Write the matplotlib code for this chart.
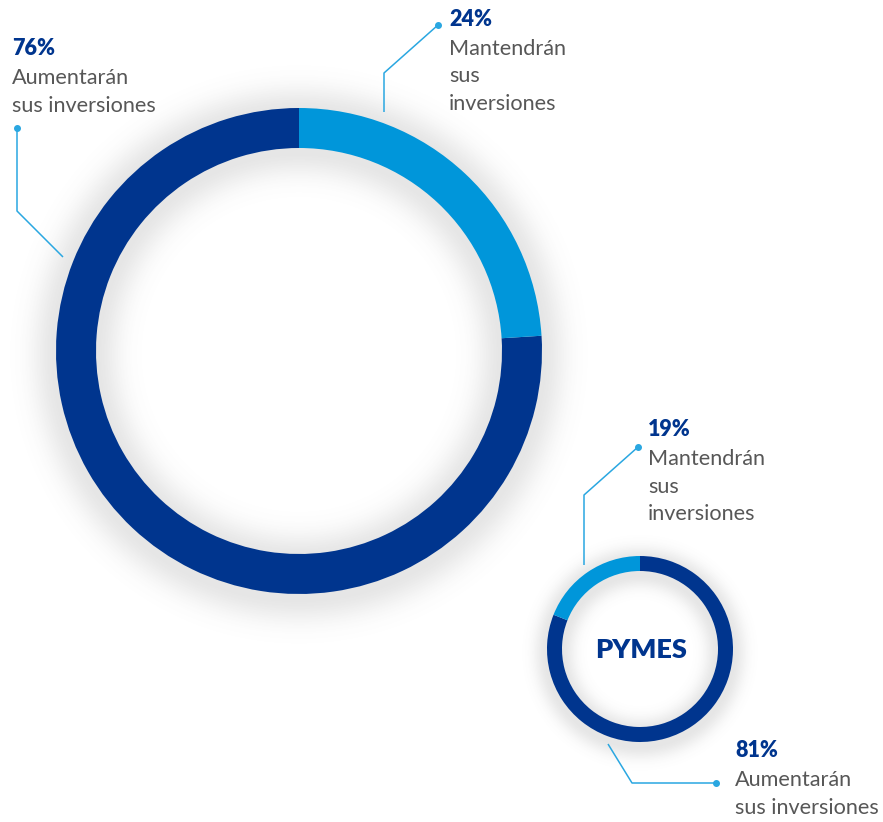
import numpy as np
import matplotlib.pyplot as plt

# data
big_labels = ["Aumentarán sus inversiones", "Mantendrán sus inversiones"]
big_values = [76, 24]
small_labels = ["Aumentarán sus inversiones", "Mantendrán sus inversiones"]
small_values = [81, 19]
small_title = "PYMES"

DARK = "#00358e"
LIGHT = "#0096da"
LINE = "#2aa7e1"
TEXT = "#575757"
FONT = "Lato"

W, H = 883, 822
fig = plt.figure(figsize=(W / 100, H / 100), dpi=100)
ax = fig.add_axes([0, 0, 1, 1])

# soft shadow around the rings
yy, xx = np.mgrid[0:H, 0:W] + 0.5
shade = np.zeros((H, W))
for cx, cy, r, w, s in [(299, 351, 243, 40, 24), (640, 649, 93, 15, 13)]:
    d = np.abs(np.hypot(xx - cx, yy - cy - 4) - (r - w / 2)) - w / 2
    d = np.clip(d, 0, None)
    shade = np.maximum(shade, 0.15 * np.exp(-(d / s) ** 2))
rgba = np.zeros((H, W, 4))
rgba[..., :3] = 0.35
rgba[..., 3] = shade
ax.imshow(rgba, extent=(0, W, H, 0), zorder=0, interpolation="bilinear")

# big donut: dark goes counter-clockwise from top (screen), light fills the rest
ax.pie(big_values, colors=[DARK, LIGHT], center=(299, 351), radius=243,
       startangle=-90, counterclock=False, frame=True,
       wedgeprops=dict(width=40, linewidth=0))
# small donut: dark clockwise from top
ax.pie(small_values, colors=[DARK, LIGHT], center=(640, 649), radius=93,
       startangle=-90, counterclock=True, frame=True,
       wedgeprops=dict(width=15, linewidth=0))
ax.set_xlim(0, W)
ax.set_ylim(H, 0)
ax.set_aspect("equal")
ax.axis("off")

ax.text(641, 658, small_title, ha="center", va="baseline", fontsize=19.5,
        fontweight="heavy", color=DARK, family=FONT)


def leader(xs, ys):
    ax.plot(xs, ys, color=LINE, lw=1.1, solid_capstyle="butt", zorder=3)
    ax.plot(xs[-1], ys[-1], "o", color=LINE, ms=4, zorder=4)


def label(x, y, pct, lines):
    ax.text(x, y, f"{pct}%", ha="left", va="baseline", fontsize=15.5,
            fontweight="heavy", color=DARK, family=FONT)
    for i, ln in enumerate(lines):
        ax.text(x, y + 29 + i * 27.5, ln, ha="left", va="baseline",
                fontsize=15.6, color=TEXT, family=FONT)


leader([63, 17, 17], [257, 211, 128])
label(12, 55, big_values[0], ["Aumentarán", "sus inversiones"])

leader([384, 384, 438], [112, 73, 25])
label(449, 26, big_values[1], ["Mantendrán", "sus", "inversiones"])

leader([584, 584, 638], [565, 495, 447])
label(648, 436, small_values[1], ["Mantendrán", "sus", "inversiones"])

leader([608, 632, 716], [744, 783, 783])
label(735, 757, small_values[0], ["Aumentarán", "sus inversiones"])

fig.savefig("out.png", dpi=100)
